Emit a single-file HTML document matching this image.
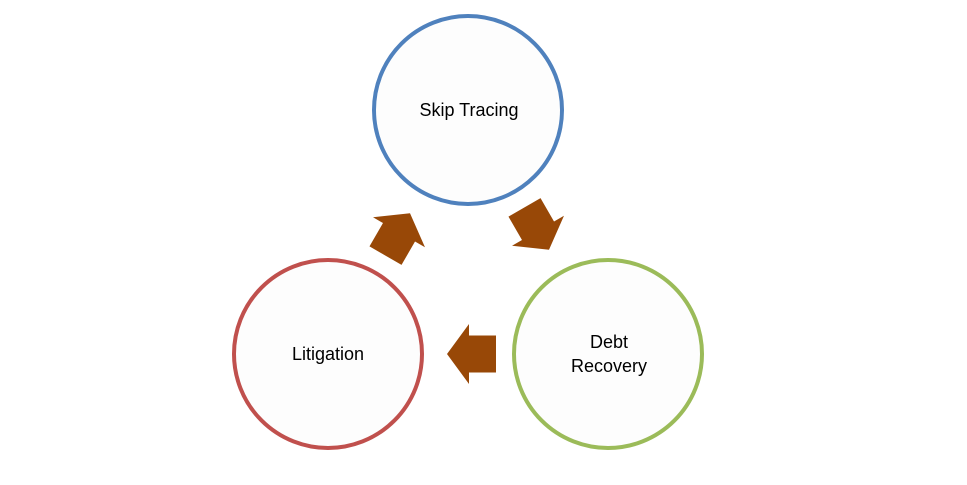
<!DOCTYPE html>
<html><head><style>body{margin:0;background:#fff}</style></head><body>
<svg width="967" height="480" xmlns="http://www.w3.org/2000/svg" font-family="Liberation Sans, sans-serif" font-size="18" fill="#000">
<defs><polygon id="a" points="-24,0 -2,-30 -2,-18.5 25,-18.5 25,18.5 -2,18.5 -2,30" fill="#984807"/></defs>
<circle cx="468" cy="110" r="94" fill="#fdfdfd" stroke="#4F81BD" stroke-width="4"/>
<circle cx="328" cy="354" r="94" fill="#fdfdfd" stroke="#C0504D" stroke-width="4"/>
<circle cx="608" cy="354" r="94" fill="#fdfdfd" stroke="#9BBB59" stroke-width="4"/>
<text x="469" y="116" text-anchor="middle">Skip Tracing</text>
<text x="328" y="360" text-anchor="middle">Litigation</text>
<text x="609" y="348" text-anchor="middle">Debt</text>
<text x="609" y="372" text-anchor="middle">Recovery</text>
<use href="#a" transform="translate(471,354)"/>
<use href="#a" transform="translate(398,234) rotate(120)"/>
<use href="#a" transform="translate(537,229) rotate(240)"/>
</svg>
</body></html>
